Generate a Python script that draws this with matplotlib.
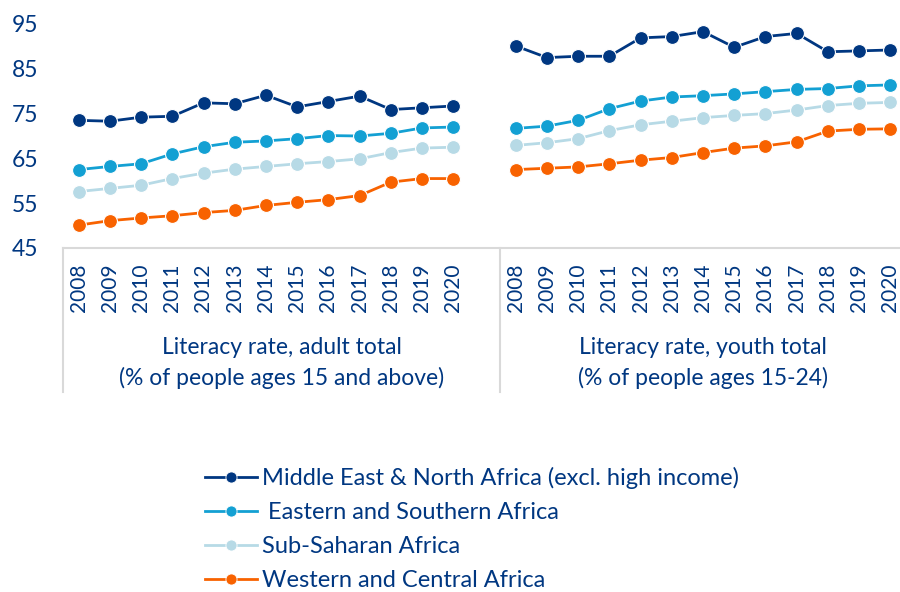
import numpy as np
import matplotlib.pyplot as plt
from matplotlib.lines import Line2D

plt.rcParams['font.family'] = ['Lato', 'DejaVu Sans']

years = [str(y) for y in range(2008, 2021)]

# adult literacy (% of people ages 15 and above)
mena_adult = [73.5, 73.3, 74.2, 74.4, 77.4, 77.2, 79.1, 76.5, 77.7, 78.9, 75.9, 76.3, 76.7]
esa_adult = [62.5, 63.2, 63.8, 66.0, 67.6, 68.6, 68.9, 69.4, 70.1, 70.0, 70.6, 71.8, 72.0]
ssa_adult = [57.6, 58.3, 59.0, 60.5, 61.7, 62.6, 63.2, 63.8, 64.3, 64.9, 66.3, 67.3, 67.5]
wca_adult = [50.1, 51.1, 51.7, 52.2, 52.9, 53.4, 54.5, 55.2, 55.8, 56.7, 59.7, 60.5, 60.5]

# youth literacy (% of people ages 15-24)
mena_youth = [90.1, 87.5, 87.8, 87.8, 91.9, 92.2, 93.3, 89.8, 92.2, 92.9, 88.8, 89.0, 89.2]
esa_youth = [71.7, 72.2, 73.5, 76.1, 77.8, 78.7, 79.0, 79.4, 79.9, 80.4, 80.6, 81.2, 81.4]
ssa_youth = [67.9, 68.5, 69.4, 71.2, 72.5, 73.3, 74.1, 74.6, 75.0, 75.8, 76.8, 77.3, 77.5]
wca_youth = [62.5, 62.8, 63.1, 63.8, 64.6, 65.2, 66.3, 67.3, 67.8, 68.7, 71.1, 71.5, 71.6]

series_names = ['Middle East & North Africa (excl. high income)',
                ' Eastern and Southern Africa',
                'Sub-Saharan Africa',
                'Western and Central Africa']
colors = ['#003781', '#13A0D3', '#B7DAE6', '#F86200']
group_labels = ['Literacy rate, adult total\n(% of people ages 15 and above)',
                'Literacy rate, youth total\n(% of people ages 15-24)']

adult = [mena_adult, esa_adult, ssa_adult, wca_adult]
youth = [mena_youth, esa_youth, ssa_youth, wca_youth]

navy = '#003781'
grey = '#D9D9D9'

fig = plt.figure(figsize=(9, 5.92), dpi=100)
W, H = 900, 592
left, right, top, bottom = 63, 906, 24, 248
ax = fig.add_axes([left / W, 1 - bottom / H, (right - left) / W, (bottom - top) / H])

n = len(years)
x1 = np.arange(n)
x2 = np.arange(n) + n + 1

for i in range(4):
    for xs, ys in [(x1, adult[i]), (x2, youth[i])]:
        ax.plot(xs, ys, color=colors[i], lw=2, marker='o', ms=10,
                mec='white', mew=0.8, clip_on=False, zorder=3)

ax.set_xlim(-0.5, 2 * n + 0.5)
ax.set_ylim(45, 95)
ax.set_yticks([45, 55, 65, 75, 85, 95])
ax.tick_params(axis='y', length=0, pad=18, labelsize=16.5, labelcolor=navy)
ax.set_xticks(np.concatenate([x1, x2]))
ax.set_xticklabels(years + years, rotation=90)
ax.tick_params(axis='x', length=0, pad=11, labelsize=15, labelcolor=navy)
for s in ax.spines.values():
    s.set_visible(False)

# category axis frame: each group spans its 13 years plus one empty slot
trans = ax.get_xaxis_transform()
depth = -(392 - bottom) / (bottom - top)
ax.plot([-0.5, 2 * n + 0.5], [0, 0], color=grey, lw=1.5, transform=trans, clip_on=False)
for xv in [-0.5, n + 0.5]:
    ax.plot([xv, xv], [0, depth], color=grey, lw=1.5, transform=trans, clip_on=False)

centers = [n / 2, n + 1 + n / 2 - 0.5]
for xc, lab in zip(centers, group_labels):
    ax.text(xc, -(363 - bottom) / (bottom - top), lab, transform=trans,
            ha='center', va='center', fontsize=16.5, color=navy, linespacing=1.45)

handles = [Line2D([], [], color=c, lw=2, marker='o', ms=8, mec='white', mew=0.6) for c in colors]
leg = fig.legend(handles, series_names, loc='upper left', bbox_to_anchor=(205 / W, 1 - 467 / H),
                 frameon=False, fontsize=17, handlelength=2.2, handletextpad=0.22,
                 labelspacing=0.55, borderpad=0, borderaxespad=0)
for t in leg.get_texts():
    t.set_color(navy)

fig.savefig('out.png', dpi=100)
